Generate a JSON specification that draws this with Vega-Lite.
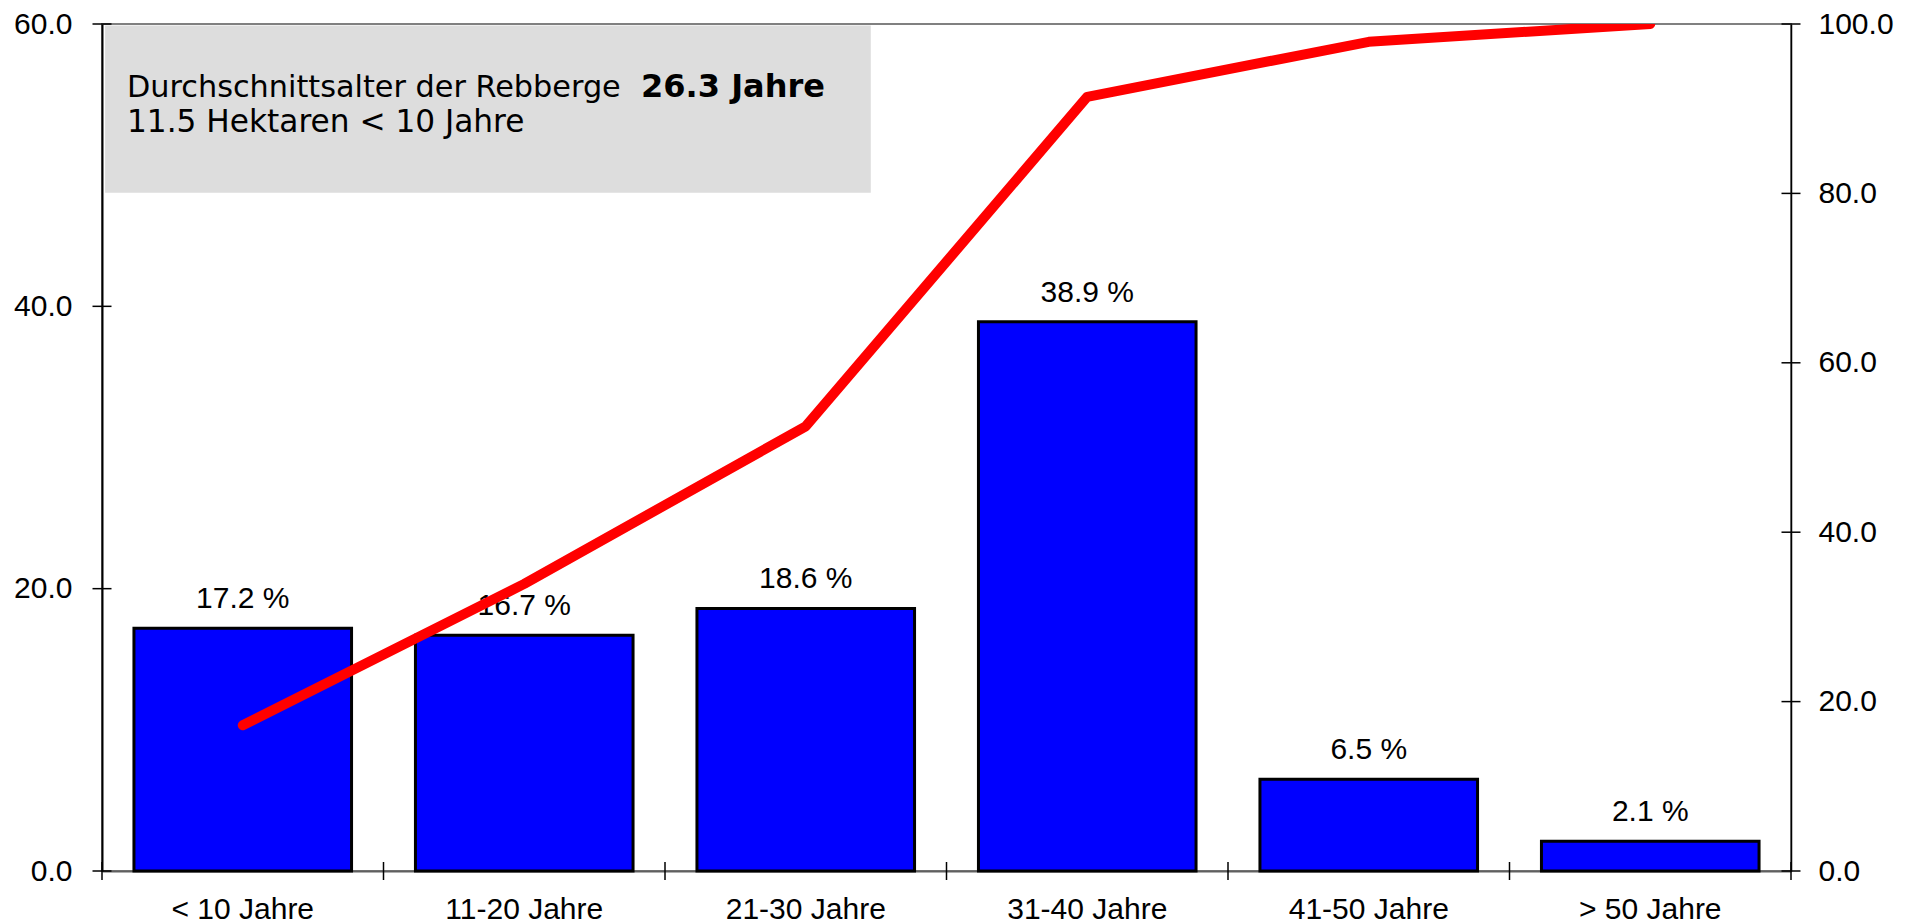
{
  "$schema": "https://vega.github.io/schema/vega-lite/v6.json",
  "width": 1689,
  "height": 847,
  "autosize": {"type": "none"},
  "padding": {"left": 102, "top": 24, "right": 123, "bottom": 52},
  "background": "white",
  "config": {
    "view": {"stroke": "#808080", "strokeWidth": 2},
    "font": "Liberation Sans",
    "axis": {"labelFont": "Liberation Sans", "labelFontSize": 30, "labelColor": "black", "grid": false, "title": null}
  },
  "datasets": {
    "ages": [
      {"Alter": "< 10 Jahre", "Anteil": 17.2, "Label": "17.2 %", "Kumuliert": 17.2},
      {"Alter": "11-20 Jahre", "Anteil": 16.7, "Label": "16.7 %", "Kumuliert": 33.9},
      {"Alter": "21-30 Jahre", "Anteil": 18.6, "Label": "18.6 %", "Kumuliert": 52.5},
      {"Alter": "31-40 Jahre", "Anteil": 38.9, "Label": "38.9 %", "Kumuliert": 91.4},
      {"Alter": "41-50 Jahre", "Anteil": 6.5, "Label": "6.5 %", "Kumuliert": 97.9},
      {"Alter": "> 50 Jahre", "Anteil": 2.1, "Label": "2.1 %", "Kumuliert": 100.0}
    ],
    "yticks": [{"v": 0}, {"v": 20}, {"v": 40}, {"v": 60}],
    "y2ticks": [{"v": 0}, {"v": 20}, {"v": 40}, {"v": 60}, {"v": 80}, {"v": 100}],
    "xticks": [{"v": 0}, {"v": 1}, {"v": 2}, {"v": 3}, {"v": 4}, {"v": 5}, {"v": 6}]
  },
  "layer": [
    {
      "layer": [
        {
          "layer": [
            {
              "data": {"values": [{"box": "Info"}]},
              "mark": {"type": "rect", "color": "#dddddd"},
              "encoding": {
                "x": {"datum": 0.011, "type": "quantitative", "scale": {"domain": [0, 6], "nice": false, "zero": false}, "axis": null},
                "x2": {"datum": 2.731},
                "y": {"datum": 48.05, "type": "quantitative", "scale": {"domain": [0, 60], "nice": false}, "axis": null},
                "y2": {"datum": 59.9}
              }
            },
            {
              "data": {"values": [{"t": "Durchschnittsalter der Rebberge"}]},
              "mark": {"type": "text", "align": "left", "baseline": "alphabetic", "font": "DejaVu Sans", "fontSize": 30.3, "color": "black"},
              "encoding": {
                "x": {"datum": 0.0888, "type": "quantitative", "axis": null},
                "y": {"datum": 54.85, "type": "quantitative", "axis": null},
                "text": {"field": "t"}
              }
            },
            {
              "data": {"values": [{"t": "26.3 Jahre"}]},
              "mark": {"type": "text", "align": "left", "baseline": "alphabetic", "font": "DejaVu Sans", "fontSize": 32, "fontWeight": "bold", "color": "black"},
              "encoding": {
                "x": {"datum": 1.915, "type": "quantitative", "axis": null},
                "y": {"datum": 54.85, "type": "quantitative", "axis": null},
                "text": {"field": "t"}
              }
            },
            {
              "data": {"values": [{"t": "11.5 Hektaren < 10 Jahre"}]},
              "mark": {"type": "text", "align": "left", "baseline": "alphabetic", "font": "DejaVu Sans", "fontSize": 31.2, "color": "black"},
              "encoding": {
                "x": {"datum": 0.0888, "type": "quantitative", "axis": null},
                "y": {"datum": 52.37, "type": "quantitative", "axis": null},
                "text": {"field": "t"}
              }
            },
            {
              "data": {"name": "yticks"},
              "mark": {"type": "tick", "orient": "horizontal", "size": 19, "thickness": 1.5, "color": "black", "opacity": 1},
              "encoding": {
                "x": {"datum": 0, "type": "quantitative", "axis": null},
                "y": {"field": "v", "type": "quantitative", "axis": null}
              }
            },
            {
              "data": {"name": "xticks"},
              "mark": {"type": "tick", "orient": "vertical", "size": 18, "thickness": 1.5, "color": "black", "opacity": 1},
              "encoding": {
                "x": {"field": "v", "type": "quantitative", "axis": null},
                "y": {"datum": 0, "type": "quantitative", "axis": null}
              }
            }
          ]
        },
        {
          "data": {"name": "y2ticks"},
          "mark": {"type": "tick", "orient": "horizontal", "size": 19, "thickness": 1.5, "color": "black", "opacity": 1},
          "encoding": {
            "x": {"datum": 6, "type": "quantitative", "axis": null},
            "y": {"field": "v", "type": "quantitative", "scale": {"domain": [0, 100], "nice": false}, "axis": null}
          }
        }
      ],
      "resolve": {"scale": {"y": "independent"}}
    },
    {
      "data": {"name": "ages"},
      "encoding": {
        "x": {
          "field": "Alter", "type": "nominal", "sort": null,
          "scale": {"paddingInner": 0.227, "paddingOuter": 0.1135},
          "axis": {"orient": "bottom", "labelAngle": 0, "ticks": false, "labelPadding": 23, "domainColor": "#606060", "domainWidth": 2}
        },
        "y": {
          "field": "Anteil", "type": "quantitative",
          "scale": {"domain": [0, 60], "nice": false},
          "axis": {"orient": "left", "values": [0, 20, 40, 60], "format": ".1f", "ticks": false, "labelPadding": 30, "domainColor": "black", "domainWidth": 2}
        }
      },
      "layer": [
        {"mark": {"type": "bar", "fill": "#0000ff", "stroke": "black", "strokeWidth": 3}},
        {
          "mark": {"type": "text", "baseline": "alphabetic", "dy": -20, "fontSize": 30, "font": "Liberation Sans", "color": "black"},
          "encoding": {"text": {"field": "Label"}}
        }
      ]
    },
    {
      "data": {"name": "ages"},
      "mark": {"type": "line", "color": "#ff0000", "strokeWidth": 10, "strokeCap": "round", "strokeJoin": "round", "clip": true},
      "encoding": {
        "x": {"field": "Alter", "type": "nominal", "sort": null, "scale": {"paddingInner": 0.227, "paddingOuter": 0.1135}, "axis": null},
        "y": {
          "field": "Kumuliert", "type": "quantitative",
          "scale": {"domain": [0, 100], "nice": false},
          "axis": {"orient": "right", "values": [0, 20, 40, 60, 80, 100], "format": ".1f", "ticks": false, "labelPadding": 27, "domainColor": "black", "domainWidth": 1.5}
        }
      }
    }
  ],
  "resolve": {"scale": {"x": "independent", "y": "independent"}}
}
